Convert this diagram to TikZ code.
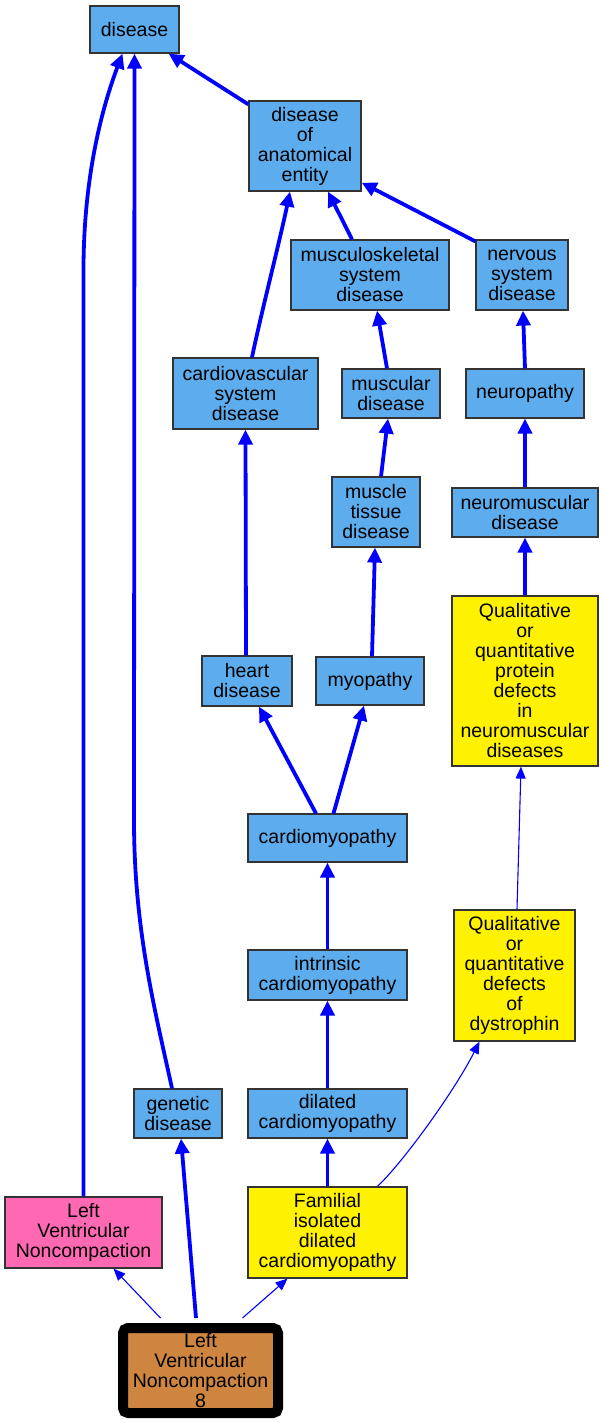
\documentclass[tikz,border=0pt]{standalone}
\usepackage{fontspec}
\setmainfont{Liberation Sans}
\usetikzlibrary{arrows.meta,calc}
\definecolor{sblue}{HTML}{5CACEE}
\definecolor{hpink}{HTML}{FF69B4}
\definecolor{peru}{HTML}{CD853F}
\definecolor{ablue}{HTML}{0000FF}
\tikzset{
  box/.style={rectangle, draw=black!80, line width=1.2pt, inner sep=0pt, align=center,
    font=\fontsize{19.5}{20}\selectfont},
  bluebox/.style={box, fill=sblue},
  yelbox/.style={box, fill=yellow},
  thk/.style={draw=ablue, line width=3.8pt, -{Triangle[length=15pt,width=14pt]}},
  thn/.style={draw=ablue, line width=1.1pt, -{Triangle[length=12pt,width=10pt]}},
}
\begin{document}
\begin{tikzpicture}[x=1pt,y=-1pt]
\useasboundingbox (0,0) rectangle (604,1423);
\node[bluebox, minimum width=89pt, minimum height=47pt] (dis) at (134.5,29.5) {disease};
\node[bluebox, minimum width=112pt, minimum height=90pt] (doae) at (305,146) {disease\\of\\anatomical\\entity};
\node[bluebox, minimum width=158pt, minimum height=70pt] (msk) at (370,275) {musculoskeletal\\system\\disease};
\node[bluebox, minimum width=92pt, minimum height=70pt] (nsd) at (522,275) {nervous\\system\\disease};
\node[bluebox, minimum width=145pt, minimum height=71pt] (cvd) at (245.5,393.5) {cardiovascular\\system\\disease};
\node[bluebox, minimum width=98pt, minimum height=49pt] (musd) at (391,393.5) {muscular\\disease};
\node[bluebox, minimum width=118pt, minimum height=49pt] (neur) at (525,393.5) {neuropathy};
\node[bluebox, minimum width=88pt, minimum height=70pt] (mtd) at (376,512) {muscle\\tissue\\disease};
\node[bluebox, minimum width=146pt, minimum height=49pt] (nmd) at (525,512.5) {neuromuscular\\disease};
\node[yelbox, minimum width=146pt, minimum height=170pt] (qpd) at (525,681) {Qualitative\\or\\quantitative\\protein\\defects\\in\\neuromuscular\\diseases};
\node[bluebox, minimum width=90pt, minimum height=50pt] (hd) at (247,681) {heart\\disease};
\node[bluebox, minimum width=108pt, minimum height=48pt] (myo) at (370,681) {myopathy};
\node[bluebox, minimum width=159pt, minimum height=48pt] (cm) at (327.5,838) {cardiomyopathy};
\node[bluebox, minimum width=159pt, minimum height=50pt] (icm) at (327.5,975) {intrinsic\\cardiomyopathy};
\node[yelbox, minimum width=121pt, minimum height=131pt] (dys) at (514.5,975.5) {Qualitative\\or\\quantitative\\defects\\of\\dystrophin};
\node[bluebox, minimum width=88pt, minimum height=49pt] (gd) at (178,1113.5) {genetic\\disease};
\node[bluebox, minimum width=159pt, minimum height=49pt] (dcm) at (327.5,1113.5) {dilated\\cardiomyopathy};
\node[box, fill=hpink, minimum width=157pt, minimum height=71pt] (lvn) at (83.5,1232.5) {Left\\Ventricular\\Noncompaction};
\node[yelbox, minimum width=159pt, minimum height=91pt] (fidc) at (327.5,1232.5) {Familial\\isolated\\dilated\\cardiomyopathy};
\node[box, draw=black, fill=peru, line width=10pt, rounded corners=5pt, minimum width=155pt, minimum height=85pt] (lvn8) at (200.5,1370.5) {Left\\Ventricular\\Noncompaction\\8};

% connectors
\draw[thk] (lvn.north) -- (83.5,270) .. controls (83.5,170) and (105,100) .. ($(dis.south)+(-12,0)$);
\draw[thk] ($(gd.north)+(-6,0)$) .. controls (155,1010) and (134,930) .. (134,820) -- (dis.south);
\draw[thk] ($(doae.north west)+(0,4)$) -- ($(dis.south east)+(-11,0)$);
\draw[thk] ($(msk.north)+(-18,0)$) -- ($(doae.south)+(23,0)$);
\draw[thk] ($(nsd.north west)+(0,2)$) -- ($(doae.south east)+(0,-9)$);
\draw[thk] ($(cvd.north)+(6.5,0)$) .. controls (260,318) and (280,240) .. ($(doae.south)+(-15,0)$);
\draw[thk] ($(musd.north)+(-4,0)$) -- ($(msk.south)+(7,0)$);
\draw[thk] (neur.north) -- ($(nsd.south)+(1,0)$);
\draw[thk] ($(mtd.north)+(5,0)$) -- ($(musd.south)+(-3,0)$);
\draw[thk] (nmd.north) -- (neur.south);
\draw[thk] (qpd.north) -- (nmd.south);
\draw[thk] ($(hd.north)+(-1,0)$) -- (cvd.south);
\draw[thk] ($(myo.north)+(2,0)$) -- ($(mtd.south)+(-1,0)$);
\draw[thk] ($(cm.north)+(-11.5,0)$) -- ($(hd.south)+(12,0)$);
\draw[thk] ($(cm.north)+(6,0)$) -- ($(myo.south)+(-6,0)$);
\draw[thk] (icm.north) -- (cm.south);
\draw[thk] (dcm.north) -- (icm.south);
\draw[thk] (fidc.north) -- (dcm.south);
\draw[thn] ($(fidc.north)+(50,0)$) .. controls (405,1160) and (455,1090) .. ($(dys.south)+(-35,0)$);
\draw[thn] ($(dys.north)+(2.5,0)$) -- ($(qpd.south)+(-4,0)$);
\draw[thn] ($(lvn8.north)+(-40,-5)$) -- ($(lvn.south)+(30,0)$);
\draw[thk] ($(lvn8.north)+(-4.5,-5)$) -- ($(gd.south)+(3,0)$);
\draw[thn] ($(lvn8.north)+(42,-5)$) -- ($(fidc.south)+(-40,0)$);
\end{tikzpicture}
\end{document}
